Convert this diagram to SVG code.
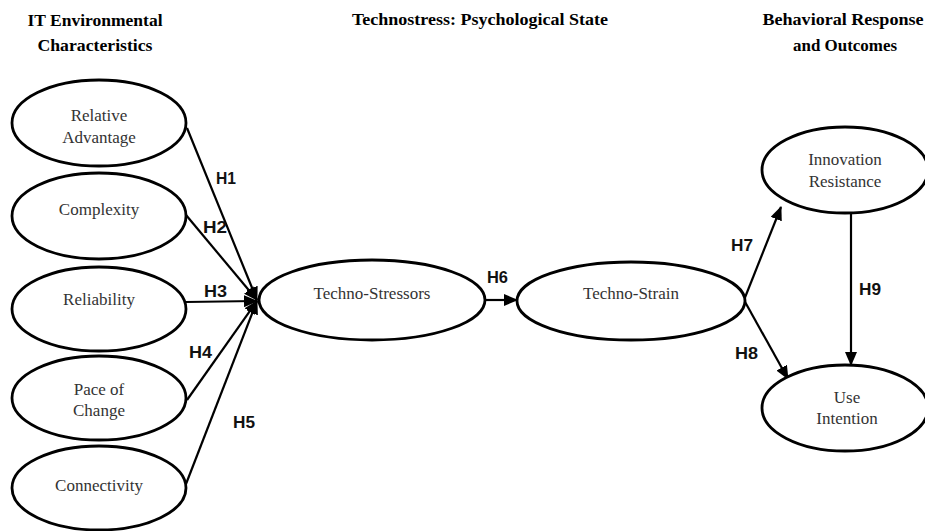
<svg xmlns="http://www.w3.org/2000/svg" width="925" height="531" viewBox="0 0 925 531">
<style>
.node ellipse{fill:#fff;stroke:#000;stroke-width:2.8}
.node text{font-family:"Liberation Serif","Times New Roman",serif;font-size:17px;fill:#333;text-anchor:middle}
.hdr{font-family:"Liberation Serif","Times New Roman",serif;font-size:17px;font-weight:bold;fill:#000;text-anchor:middle}
.conn line{stroke:#000;stroke-width:2.2}
.lbl{font-family:"Liberation Sans",Arial,sans-serif;font-size:16px;font-weight:bold;fill:#111}
</style>
<defs>
<marker id="arr" markerUnits="userSpaceOnUse" markerWidth="14" markerHeight="12" viewBox="0 0 14 12" refX="13" refY="6" orient="auto">
<path d="M0,0 L14,6 L0,12 Z" fill="#000"/>
</marker>
</defs>
<rect width="925" height="531" fill="#fff"/>
<g id="headers">
<text class="hdr" x="95" y="26" textLength="135" lengthAdjust="spacingAndGlyphs">IT Environmental</text>
<text class="hdr" x="95" y="51" textLength="115" lengthAdjust="spacingAndGlyphs">Characteristics</text>
<text class="hdr" x="480" y="25" textLength="256" lengthAdjust="spacingAndGlyphs">Technostress: Psychological State</text>
<text class="hdr" x="843" y="25" textLength="161" lengthAdjust="spacingAndGlyphs">Behavioral Response</text>
<text class="hdr" x="845" y="51" textLength="104" lengthAdjust="spacingAndGlyphs">and Outcomes</text>
</g>
<g id="connectors" class="conn">
<line x1="187" y1="128" x2="257" y2="300" marker-end="url(#arr)"/>
<line x1="186" y1="215" x2="257" y2="300" marker-end="url(#arr)"/>
<line x1="186" y1="302" x2="257" y2="301" marker-end="url(#arr)"/>
<line x1="187" y1="400" x2="257" y2="301" marker-end="url(#arr)"/>
<line x1="186" y1="484" x2="257" y2="301" marker-end="url(#arr)"/>
<line x1="485" y1="300" x2="517" y2="300" marker-end="url(#arr)"/>
<line x1="744" y1="300" x2="781" y2="207" marker-end="url(#arr)"/>
<line x1="744" y1="300" x2="788" y2="379" marker-end="url(#arr)"/>
<line x1="851" y1="213" x2="851" y2="365" marker-end="url(#arr)"/>
</g>
<g id="labels">
<text class="lbl" x="216" y="184" textLength="20" lengthAdjust="spacingAndGlyphs">H1</text>
<text class="lbl" x="203" y="233" textLength="24" lengthAdjust="spacingAndGlyphs">H2</text>
<text class="lbl" x="204" y="297" textLength="23" lengthAdjust="spacingAndGlyphs">H3</text>
<text class="lbl" x="189" y="358" textLength="23" lengthAdjust="spacingAndGlyphs">H4</text>
<text class="lbl" x="233" y="428" textLength="22" lengthAdjust="spacingAndGlyphs">H5</text>
<text class="lbl" x="487" y="283" textLength="21" lengthAdjust="spacingAndGlyphs">H6</text>
<text class="lbl" x="731" y="251" textLength="22" lengthAdjust="spacingAndGlyphs">H7</text>
<text class="lbl" x="735" y="359" textLength="23" lengthAdjust="spacingAndGlyphs">H8</text>
<text class="lbl" x="859" y="295" textLength="22" lengthAdjust="spacingAndGlyphs">H9</text>
</g>
<g id="relative-advantage" class="node">
<ellipse cx="99" cy="123" rx="87" ry="43"/>
<text x="99" y="121">Relative</text>
<text x="99" y="143">Advantage</text>
</g>
<g id="complexity" class="node">
<ellipse cx="99" cy="216" rx="87" ry="43"/>
<text x="99" y="215">Complexity</text>
</g>
<g id="reliability" class="node">
<ellipse cx="99" cy="309" rx="87" ry="42"/>
<text x="99" y="305">Reliability</text>
</g>
<g id="pace-of-change" class="node">
<ellipse cx="99" cy="398" rx="87" ry="42"/>
<text x="99" y="395">Pace of</text>
<text x="99" y="416">Change</text>
</g>
<g id="connectivity" class="node">
<ellipse cx="99" cy="488" rx="87" ry="42"/>
<text x="99" y="491">Connectivity</text>
</g>
<g id="techno-stressors" class="node">
<ellipse cx="372" cy="300" rx="113" ry="40"/>
<text x="372" y="299">Techno-Stressors</text>
</g>
<g id="techno-strain" class="node">
<ellipse cx="631" cy="301" rx="114" ry="39"/>
<text x="631" y="299">Techno-Strain</text>
</g>
<g id="innovation-resistance" class="node">
<ellipse cx="845" cy="170" rx="83" ry="43"/>
<text x="845" y="165">Innovation</text>
<text x="845" y="187">Resistance</text>
</g>
<g id="use-intention" class="node">
<ellipse cx="845" cy="408" rx="83" ry="43"/>
<text x="847" y="403">Use</text>
<text x="847" y="424">Intention</text>
</g>
</svg>
